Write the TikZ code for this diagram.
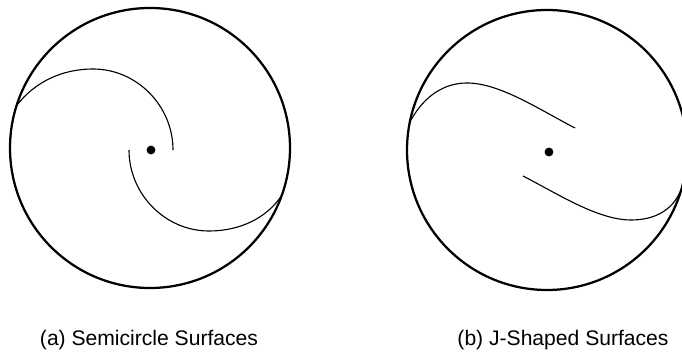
\documentclass[tikz,border=0pt]{standalone}
\usepackage{fontspec}
\setmainfont{Liberation Sans}
\tikzset{
  rim/.style={line width=1.6pt},
  surf/.style={line width=0.8pt},
  hub/.style={circle, fill=black, inner sep=0pt, minimum size=2.2mm},
  caption/.style={font=\fontsize{15}{18}\selectfont, inner sep=0pt}
}
\begin{document}
\begin{tikzpicture}[x=0.025cm, y=-0.025cm]
  \useasboundingbox (0,0) rectangle (682,352);
  \clip (0,0) rectangle (682,352);
  % (a) semicircle surfaces
  \draw[rim] (150,148) circle[radius=140];
  \node[hub] (hubA) at (151,150) {};
  \draw[surf] (17,105) .. controls (35,82) and (62,69) .. (93,69)
    .. controls (137,69) and (173,106) .. (173,150);
  \draw[surf] (129,150) .. controls (129,194) and (165,231) .. (209,231)
    .. controls (240,231) and (267,218) .. (282,195);
  \node[caption] (capA) at (149,340) {(a) Semicircle Surfaces};
  % (b) j-shaped surfaces
  \draw[rim] (547,150) circle[radius=140];
  \node[hub] (hubB) at (549,152) {};
  \draw[surf] (411,120) .. controls (425,95) and (445,83) .. (467,83)
    .. controls (500,83) and (540,110) .. (575,128);
  \draw[surf] (523,176) .. controls (558,194) and (598,220) .. (631,220)
    .. controls (655,220) and (672,210) .. (680,192);
  \node[caption] (capB) at (563,340) {(b) J-Shaped Surfaces};
\end{tikzpicture}
\end{document}
